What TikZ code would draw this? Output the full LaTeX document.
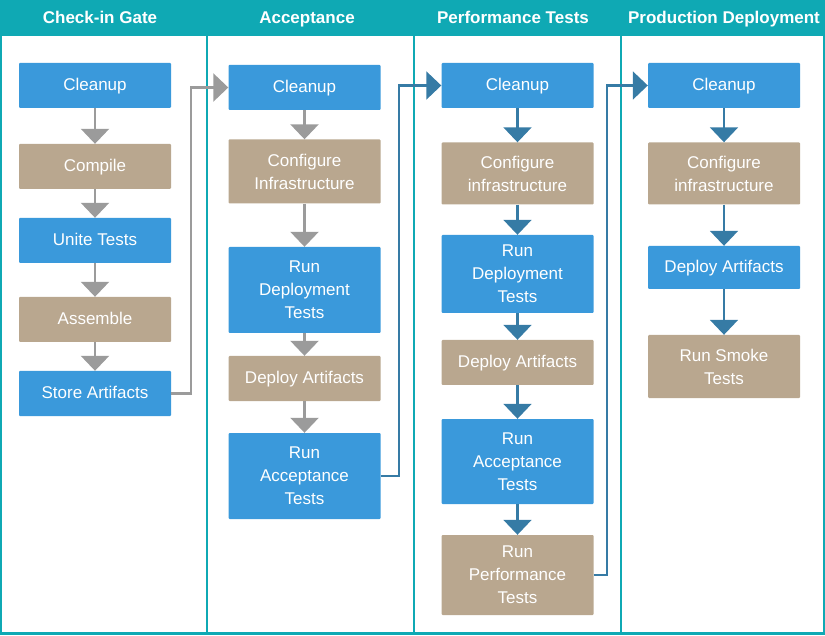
\documentclass[tikz,border=0pt]{standalone}
\usepackage{fontspec}
\setmainfont{Liberation Sans}
\usetikzlibrary{arrows.meta}
\definecolor{laneteal}{HTML}{0FA9B4}
\definecolor{stepblue}{HTML}{3A99DB}
\definecolor{steptan}{HTML}{B9A78F}
\definecolor{arrowgray}{HTML}{9B9B9B}
\definecolor{arrowblue}{HTML}{367BA5}

\begin{document}
\begin{tikzpicture}[x=1pt, y=-1pt]
\tikzset{StepStyle/.style = {shape=rectangle, rounded corners=1pt, minimum width=152pt, inner sep=0pt, text=white, align=center, font=\fontsize{17}{23}\selectfont}}
\tikzset{BlueStep/.style = {StepStyle, fill=stepblue}}
\tikzset{TanStep/.style = {StepStyle, fill=steptan}}
\tikzset{OneLine/.style = {text height=13pt, text depth=2pt}}
\tikzset{LaneTitle/.style = {anchor=base, inner sep=0pt, text=white, font=\bfseries\fontsize{17}{20}\selectfont}}
\tikzset{GrayEdge/.style = {-{Triangle[width=28pt, length=15pt]}, line width=2.5pt, draw=arrowgray}}
\tikzset{BlueEdge/.style = {-{Triangle[width=28pt, length=15pt]}, line width=2.2pt, draw=arrowblue}}
\tikzset{LaneLine/.style = {draw=laneteal, line width=2pt}}
	\useasboundingbox (0,0) rectangle (825,636);
	\fill[laneteal] (0,0) rectangle (825,36);
	\draw[LaneLine] (1,36) -- (1,633) -- (824,633) -- (824,36);
	\draw[laneteal, line width=3pt] (0,633.5) -- (825,633.5);
	\draw[LaneLine] (207,36) -- (207,633);
	\draw[LaneLine] (414,36) -- (414,633);
	\draw[LaneLine] (621,36) -- (621,633);

	\node[LaneTitle] (titleA) at (100,24) {Check-in Gate};
	\node[LaneTitle] (titleB) at (307,24) {Acceptance};
	\node[LaneTitle] (titleC) at (513,24) {Performance Tests};
	\node[LaneTitle] (titleD) at (724,24) {Production Deployment};

	\node[BlueStep, OneLine, minimum height=45pt] (cleanA) at (95,85.5) {Cleanup};
	\node[TanStep, OneLine, minimum height=45pt] (compile) at (95,166.5) {Compile};
	\node[BlueStep, OneLine, minimum height=45pt] (unite) at (95,240.5) {Unite Tests};
	\node[TanStep, OneLine, minimum height=45pt] (assemble) at (95,319.5) {Assemble};
	\node[BlueStep, OneLine, minimum height=45pt] (store) at (95,393.5) {Store Artifacts};
	\draw[GrayEdge] (cleanA) -- (compile);
	\draw[GrayEdge] (compile) -- (unite);
	\draw[GrayEdge] (unite) -- (assemble);
	\draw[GrayEdge] (assemble) -- (store);

	\node[BlueStep, OneLine, minimum height=45pt] (cleanB) at (304.5,87.5) {Cleanup};
	\node[TanStep, minimum height=64pt] (configB) at (304.5,171.5) {Configure\\Infrastructure};
	\node[BlueStep, minimum height=86pt] (deplTestB) at (304.5,290) {Run\\Deployment\\Tests};
	\node[TanStep, OneLine, minimum height=45pt] (artB) at (304.5,378.5) {Deploy Artifacts};
	\node[BlueStep, minimum height=86pt] (acceptB) at (304.5,476) {Run\\Acceptance\\Tests};
	\draw[GrayEdge] (cleanB) -- (configB);
	\draw[GrayEdge] (configB) -- (deplTestB);
	\draw[GrayEdge] (deplTestB) -- (artB);
	\draw[GrayEdge] (artB) -- (acceptB);
	\draw[GrayEdge] (store.east) -- ++(20,0) |- (cleanB.west);

	\node[BlueStep, OneLine, minimum height=45pt] (cleanC) at (517.5,85.5) {Cleanup};
	\node[TanStep, minimum height=62pt] (configC) at (517.5,173.5) {Configure\\infrastructure};
	\node[BlueStep, minimum height=78pt] (deplTestC) at (517.5,274) {Run\\Deployment\\Tests};
	\node[TanStep, OneLine, minimum height=45pt] (artC) at (517.5,362.5) {Deploy Artifacts};
	\node[BlueStep, minimum height=85pt] (acceptC) at (517.5,461.5) {Run\\Acceptance\\Tests};
	\node[TanStep, minimum height=80pt] (perfC) at (517.5,575) {Run\\Performance\\Tests};
	\draw[BlueEdge] (cleanC) -- (configC);
	\draw[BlueEdge] (configC) -- (deplTestC);
	\draw[BlueEdge] (deplTestC) -- (artC);
	\draw[BlueEdge] (artC) -- (acceptC);
	\draw[BlueEdge] (acceptC) -- (perfC);
	\draw[BlueEdge] (acceptB.east) -- ++(18,0) |- (cleanC.west);

	\node[BlueStep, OneLine, minimum height=45pt] (cleanD) at (724,85.5) {Cleanup};
	\node[TanStep, minimum height=62pt] (configD) at (724,173.5) {Configure\\infrastructure};
	\node[BlueStep, OneLine, minimum height=43pt] (artD) at (724,267.5) {Deploy Artifacts};
	\node[TanStep, minimum height=63pt] (smokeD) at (724,366.5) {Run Smoke\\Tests};
	\draw[BlueEdge] (cleanD) -- (configD);
	\draw[BlueEdge] (configD) -- (artD);
	\draw[BlueEdge] (artD) -- (smokeD);
	\draw[BlueEdge] (perfC.east) -- ++(13,0) |- (cleanD.west);

\end{tikzpicture}
\end{document}
